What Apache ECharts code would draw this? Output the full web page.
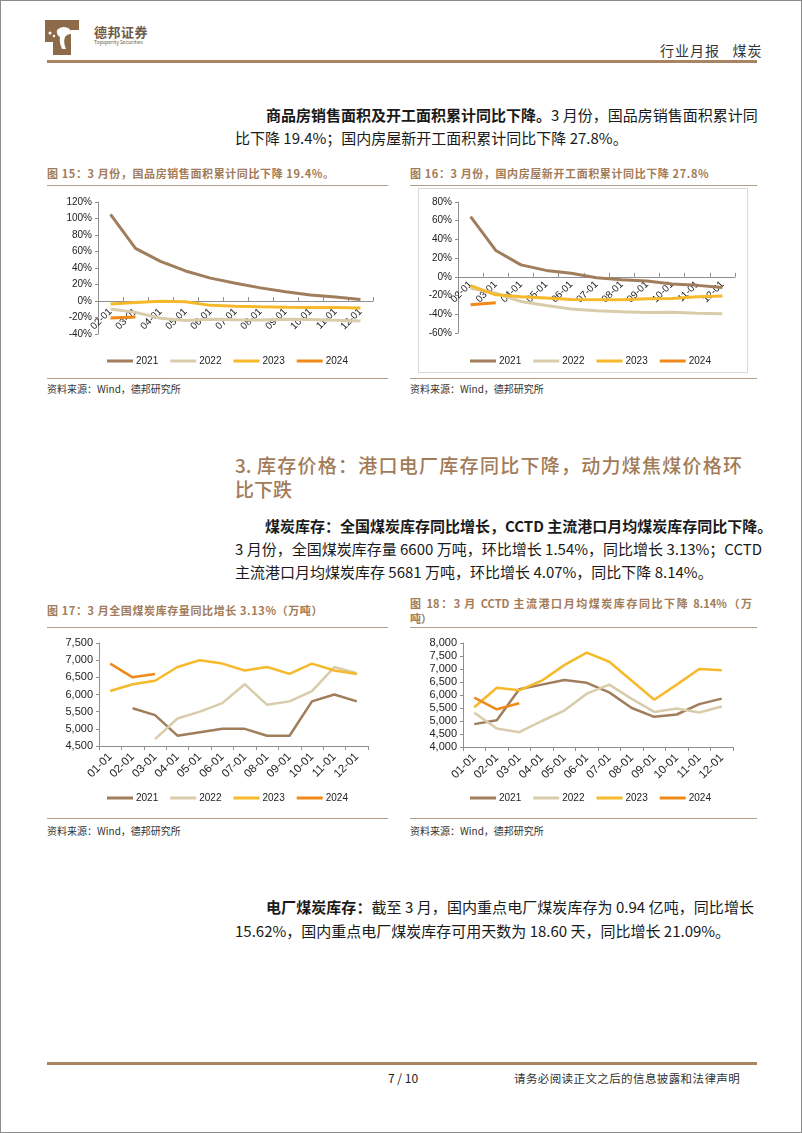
<!DOCTYPE html>
<html><head><meta charset="utf-8">
<script src="https://cdn.jsdelivr.net/npm/echarts@6/dist/echarts.min.js"></script>
<style>
html,body{margin:0;padding:0;background:#fff;}
body{width:802px;height:1133px;position:relative;overflow:hidden;font-family:"Noto Sans CJK SC","Liberation Sans",sans-serif;color:#222;}
.frame{position:absolute;left:0;top:0;width:802px;height:1133px;box-sizing:border-box;border:1px solid #8c8c8c;}
.t{position:absolute;white-space:nowrap;}
.j{text-align:justify;text-align-last:justify;white-space:nowrap;}
.p{font-size:15px;line-height:20px;height:20px;color:#1a1a1a;}
.b{font-weight:bold;}
.ct{font-size:11px;line-height:14px;font-weight:bold;color:#a27b58;}
.src{font-size:10px;line-height:12px;color:#333;}
.hl{position:absolute;height:1px;background:#b49c84;}
.chart{position:absolute;}
</style></head>
<body>
<div class="frame"></div>

<!-- header -->
<svg class="t" style="left:45px;top:20px" width="34" height="35" viewBox="0 0 34 35">
  <rect x="0" y="0" width="34" height="10" fill="#8d6a4a"/>
  <rect x="8" y="0" width="18" height="35" fill="#8d6a4a"/>
  <rect x="0" y="0" width="10" height="22" fill="#8d6a4a"/>
  <path d="M12 10 Q17 5 23 8 Q27 10 26 14 Q22 14 20 17 Q18 22 21 29 L17 29 Q14 22 15 17 Q11 15 12 10Z" fill="#fff"/>
  <circle cx="5" cy="13" r="1.5" fill="#fff"/><circle cx="9" cy="16" r="1.2" fill="#fff"/>
</svg>
<div class="t" style="left:94px;top:24px;font-size:13px;font-weight:bold;color:#6e5a48;line-height:16px;letter-spacing:0.5px">德邦证券</div>
<div class="t" style="left:94px;top:39px;font-size:5px;color:#6e5a48;line-height:6px">Topsperity Securities</div>
<div class="t" style="left:660px;top:41px;font-size:14px;color:#333;line-height:18px;letter-spacing:1px">行业月报&nbsp;&nbsp;&nbsp;煤炭</div>
<div style="position:absolute;left:47px;top:60px;width:710px;height:3px;background:#a98463"></div>

<!-- paragraph 1 -->
<div class="t p j" style="left:266px;top:105px;width:488px"><span class="b">商品房销售面积及开工面积累计同比下降。</span>3 月份，国品房销售面积累计同</div>
<div class="t p" style="left:235px;top:128px">比下降 19.4%；国内房屋新开工面积累计同比下降 27.8%。</div>

<!-- chart 15 -->
<div class="t ct" style="left:47px;top:166px;letter-spacing:0.6px">图 15：3 月份，国品房销售面积累计同比下降 19.4%。</div>
<div class="hl" style="left:47px;top:185px;width:341px"></div>
<div id="c15" class="chart" style="left:47px;top:186px;width:343px;height:190px"></div>
<div class="hl" style="left:47px;top:378px;width:341px"></div>
<div class="t src" style="left:47px;top:383px">资料来源：Wind，德邦研究所</div>

<!-- chart 16 -->
<div class="t ct" style="left:410px;top:166px;letter-spacing:0.6px">图 16：3 月份，国内房屋新开工面积累计同比下降 27.8%</div>
<div class="hl" style="left:410px;top:185px;width:347px"></div>
<div id="c16" class="chart" style="left:418px;top:188px;width:330px;height:185px;box-sizing:border-box;border:1px solid #d9d9d9"></div>
<div class="hl" style="left:410px;top:378px;width:347px"></div>
<div class="t src" style="left:410px;top:383px">资料来源：Wind，德邦研究所</div>

<!-- section heading -->
<div class="t j" style="left:235px;top:454px;width:507px;font-size:19px;line-height:22px;color:#a27b58;font-weight:500">3. 库存价格：港口电厂库存同比下降，动力煤焦煤价格环</div>
<div class="t" style="left:235px;top:478px;font-size:19px;line-height:22px;color:#a27b58;font-weight:500">比下跌</div>

<!-- paragraph 2 -->
<div class="t p j b" style="left:265px;top:516px;width:487px">煤炭库存：全国煤炭库存同比增长，CCTD 主流港口月均煤炭库存同比下降。</div>
<div class="t p j" style="left:235px;top:539px;width:517px">3 月份，全国煤炭库存量 6600 万吨，环比增长 1.54%，同比增长 3.13%；CCTD</div>
<div class="t p" style="left:235px;top:562px">主流港口月均煤炭库存 5681 万吨，环比增长 4.07%，同比下降 8.14%。</div>

<!-- chart 17 -->
<div class="t ct" style="left:47px;top:603px;letter-spacing:0.6px">图 17：3 月全国煤炭库存量同比增长 3.13%（万吨）</div>
<div class="hl" style="left:47px;top:627px;width:341px"></div>
<div id="c17" class="chart" style="left:47px;top:630px;width:343px;height:186px"></div>
<div class="hl" style="left:47px;top:818px;width:341px"></div>
<div class="t src" style="left:47px;top:825px">资料来源：Wind，德邦研究所</div>

<!-- chart 18 -->
<div class="t ct j" style="left:410px;top:596px;width:342px">图 18：3 月 CCTD 主流港口月均煤炭库存同比下降 8.14%（万</div>
<div class="t ct" style="left:410px;top:611px">吨）</div>
<div class="hl" style="left:410px;top:627px;width:347px"></div>
<div id="c18" class="chart" style="left:410px;top:630px;width:347px;height:186px"></div>
<div class="hl" style="left:410px;top:818px;width:347px"></div>
<div class="t src" style="left:410px;top:825px">资料来源：Wind，德邦研究所</div>

<!-- paragraph 3 -->
<div class="t p j" style="left:266px;top:897px;width:488px"><span class="b">电厂煤炭库存：</span>截至 3 月，国内重点电厂煤炭库存为 0.94 亿吨，同比增长</div>
<div class="t p" style="left:235px;top:921px">15.62%，国内重点电厂煤炭库存可用天数为 18.60 天，同比增长 21.09%。</div>

<!-- footer -->
<div style="position:absolute;left:47px;top:1062px;width:710px;height:3px;background:#a98463"></div>
<div class="t" style="left:388px;top:1071px;font-size:12px;line-height:14px;color:#222">7 / 10</div>
<div class="t" style="left:514px;top:1071px;font-size:11.5px;line-height:14px;color:#333;letter-spacing:0.4px">请务必阅读正文之后的信息披露和法律声明</div>

<script>
// ===== data =====
const names = ['2021', '2022', '2023', '2024'];
const colors = ['#a07d5b', '#d9ccab', '#f6b92b', '#ef8a1a'];

// chart 15: 商品房销售面积累计同比 (%)
const cats15 = ['02-01','03-01','04-01','05-01','06-01','07-01','08-01','09-01','10-01','11-01','12-01'];
const s15_2021 = [104.9, 63.8, 48.1, 36.4, 27.7, 21.5, 15.9, 11.3, 7.2, 4.8, 1.9];
const s15_2022 = [-9.6, -13.8, -20.9, -23.6, -22.2, -22.8, -23.0, -22.2, -22.3, -23.3, -24.3];
const s15_2023 = [-3.6, -1.8, -0.4, -0.9, -5.3, -6.5, -7.1, -7.5, -7.8, -8.0, -8.5];
const s15_2024 = [-20.5, -19.4];
const ticks15 = {min: -40, max: 120, interval: 20};

// chart 16: 房屋新开工面积累计同比 (%)
const cats16 = cats15;
const s16_2021 = [64.3, 28.2, 12.8, 6.9, 3.8, -0.9, -3.2, -4.5, -7.7, -9.1, -11.4];
const s16_2022 = [-12.2, -17.5, -26.3, -30.6, -34.4, -36.1, -37.2, -38.0, -37.8, -38.9, -39.4];
const s16_2023 = [-9.4, -19.2, -21.2, -22.6, -24.3, -24.5, -24.4, -23.4, -23.2, -21.2, -20.4];
const s16_2024 = [-29.7, -27.8];
const ticks16 = {min: -60, max: 80, interval: 20};

// chart 17: 全国煤炭库存 (万吨)
const cats17 = ['01-01','02-01','03-01','04-01','05-01','06-01','07-01','08-01','09-01','10-01','11-01','12-01'];
const s17_2021 = [null, 5600, 5400, 4800, 4900, 5000, 5000, 4800, 4800, 5800, 6000, 5800];
const s17_2022 = [null, null, 4700, 5300, 5500, 5750, 6300, 5700, 5800, 6100, 6800, 6620];
const s17_2023 = [6100, 6300, 6400, 6800, 7000, 6900, 6700, 6800, 6600, 6900, 6700, 6600];
const s17_2024 = [6900, 6500, 6600];
const ticks17 = {min: 4500, max: 7500, interval: 500};

// chart 18: CCTD 主流港口月均煤炭库存 (万吨)
const cats18 = cats17;
const s18_2021 = [4880, 5030, 6220, 6400, 6580, 6470, 6100, 5500, 5160, 5250, 5650, 5860];
const s18_2022 = [5320, 4710, 4570, 5000, 5400, 6050, 6400, 5850, 5350, 5480, 5330, 5560];
const s18_2023 = [5530, 6280, 6180, 6550, 7150, 7630, 7280, 6550, 5820, 6400, 7000, 6950];
const s18_2024 = [5900, 5450, 5680];
const ticks18 = {min: 4000, max: 8000, interval: 500};

// ===== builder =====
function thousands(v){ return String(v).replace(/\B(?=(\d{3})+(?!\d))/g, ','); }

function build(id, cats, seriesData, ticks, fmt, cfg){
  const chart = echarts.init(document.getElementById(id), null, {renderer:'canvas'});
  // x axis crosses the value axis at 0 (placed via offset from the grid bottom)
  const span = ticks.max - ticks.min;
  const zeroFromBottom = ticks.min < 0 ? cfg.gh * (0 - ticks.min) / span : 0;
  chart.setOption({
    animation: false,
    textStyle: {fontFamily: '"Liberation Sans", Arial, sans-serif'},
    grid: {left: cfg.gl, top: cfg.gt, width: cfg.gw, height: cfg.gh, containLabel: false},
    legend: {
      data: names, left: cfg.ll, top: cfg.lt, icon: 'rect', itemWidth: 26, itemHeight: 3,
      itemGap: 12, textStyle: {fontSize: 10, color: '#222', padding: [0,0,0,-2]}
    },
    xAxis: {
      type: 'category', data: cats, boundaryGap: true, position: 'bottom',
      offset: -zeroFromBottom,
      axisLine: {onZero: false, lineStyle: {color: '#8f8f8f', width: 1}},
      axisTick: {show: true, inside: cfg.tickInside, length: 4, lineStyle: {color: '#8f8f8f'}},
      axisLabel: {rotate: 45, interval: 0, fontSize: cfg.xfs, color: '#222', margin: cfg.lm}
    },
    yAxis: {
      type: 'value', min: ticks.min, max: ticks.max, interval: ticks.interval,
      splitLine: {show: false},
      axisLine: {show: true, lineStyle: {color: '#8f8f8f', width: 1}},
      axisTick: {show: true, length: 3, lineStyle: {color: '#8f8f8f'}},
      axisLabel: {fontSize: cfg.fs, color: '#222', formatter: fmt, margin: 6}
    },
    series: seriesData.map((d, i) => ({
      name: names[i], type: 'line', data: d, symbol: 'none', z: 2 + i,
      lineStyle: {width: cfg.lw, color: colors[i]}, itemStyle: {color: colors[i]}
    }))
  });
}

build('c15', cats15, [s15_2021, s15_2022, s15_2023, s15_2024], ticks15, v => v + '%',
  {gl: 51, gt: 16, gw: 275, gh: 132, ll: 55, lt: 165, lw: 3, fs: 10, xfs: 10, lm: 9, tickInside: true});
build('c16', cats16, [s16_2021, s16_2022, s16_2023, s16_2024], ticks16, v => v + '%',
  {gl: 39, gt: 13, gw: 277, gh: 131, ll: 46, lt: 162, lw: 3, fs: 10, xfs: 10, lm: 6, tickInside: true});
build('c17', cats17, [s17_2021, s17_2022, s17_2023, s17_2024], ticks17, v => thousands(v),
  {gl: 52, gt: 13, gw: 269, gh: 103, ll: 55, lt: 158, lw: 2.5, fs: 11, xfs: 11.5, lm: 9, tickInside: false});
build('c18', cats18, [s18_2021, s18_2022, s18_2023, s18_2024], ticks18, v => thousands(v),
  {gl: 53, gt: 13, gw: 270, gh: 104, ll: 55, lt: 158, lw: 2.5, fs: 11, xfs: 11.5, lm: 9, tickInside: false});
</script>
</body></html>
